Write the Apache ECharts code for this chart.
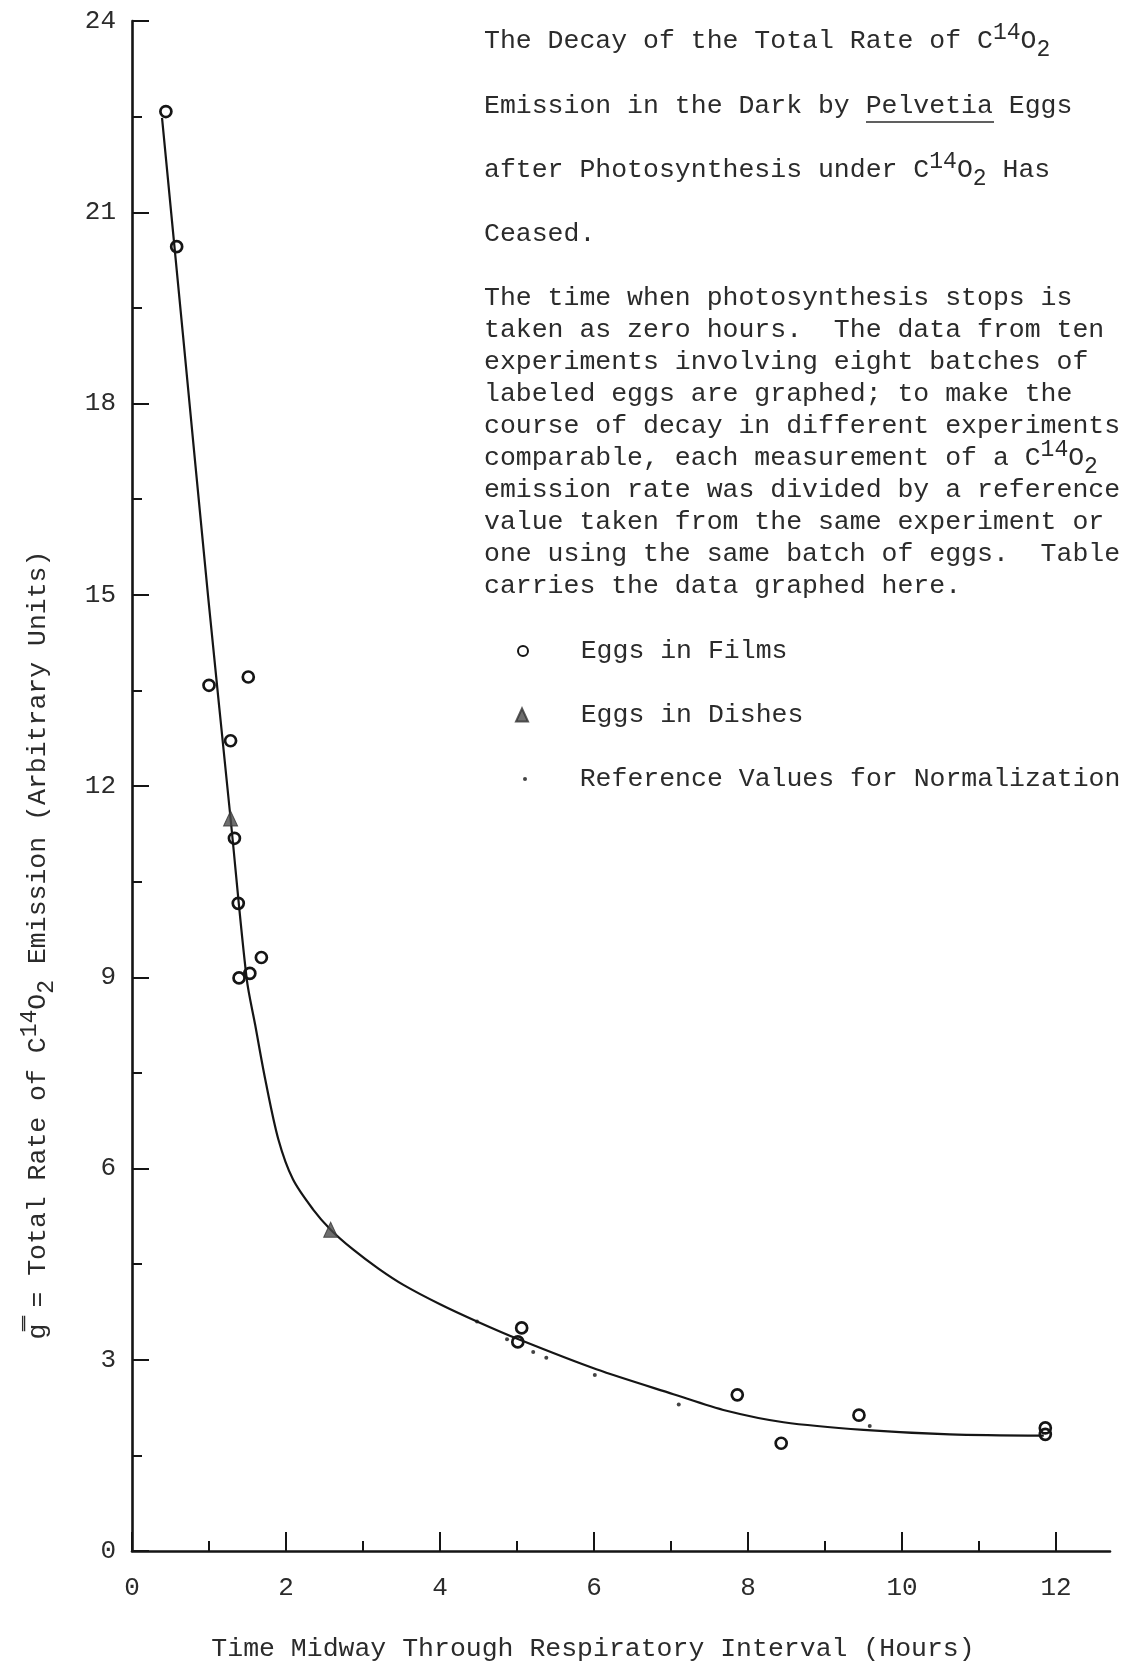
<!DOCTYPE html>
<html>
<head>
<meta charset="utf-8">
<script src="https://cdn.jsdelivr.net/npm/echarts@6/dist/echarts.min.js"></script>
<style>
  html, body { margin:0; padding:0; background:#fff; }
  #chart { width:1121px; height:1669px; }
</style>
</head>
<body>
<div id="chart"></div>
<script>
(function(){
  // eggs in films (open circles)
  const filmsX = [0.44, 0.58, 1.00, 1.51, 1.28, 1.33, 1.38, 1.68, 1.53, 1.39, 5.06, 5.01, 7.86, 8.43, 9.44, 11.86, 11.86];
  const filmsY = [22.58, 20.46, 13.58, 13.71, 12.71, 11.18, 10.16, 9.31, 9.06, 8.99, 3.50, 3.28, 2.45, 1.69, 2.13, 1.93, 1.83];
  // eggs in dishes (filled triangles)
  const dishesX = [1.28, 2.58];
  const dishesY = [11.49, 5.04];
  // reference values for normalization (small dots)
  const refX = [4.48, 4.87, 5.21, 5.38, 6.01, 7.10, 9.58];
  const refY = [3.60, 3.32, 3.12, 3.03, 2.76, 2.30, 1.96];
  // hand drawn decay curve
  const curveX = [0.39, 0.66, 0.99, 1.28, 1.49, 1.60, 1.73, 1.90, 2.09, 2.35, 2.58, 2.87, 3.20, 3.53, 4.00, 4.48, 5.02, 6.03, 7.03, 7.72, 8.46, 9.50, 10.62, 11.84];
  const curveY = [22.48, 19.10, 14.95, 11.49, 8.97, 8.25, 7.40, 6.46, 5.83, 5.36, 5.04, 4.73, 4.43, 4.17, 3.87, 3.60, 3.32, 2.85, 2.46, 2.20, 2.02, 1.90, 1.83, 1.81];

  const xMajorTicks = [0, 2, 4, 6, 8, 10, 12];
  const xMinorTicks = [1, 3, 5, 7, 9, 11];

  const titleLines = [
    'The Decay of the Total Rate of C{sup|14}O{sub|2}',
    'Emission in the Dark by Pelvetia Eggs',
    'after Photosynthesis under C{sup|14}O{sub|2} Has',
    'Ceased.'
  ];
  const noteLines = [
    'The time when photosynthesis stops is',
    'taken as zero hours.  The data from ten',
    'experiments involving eight batches of',
    'labeled eggs are graphed; to make the',
    'course of decay in different experiments',
    'comparable, each measurement of a C{sup|14}O{sub|2}',
    'emission rate was divided by a reference',
    'value taken from the same experiment or',
    'one using the same batch of eggs.  Table',
    'carries the data graphed here.'
  ];
  const yName = 'g\u033F = Total Rate of C{sup|14}O{sub|2} Emission (Arbitrary Units)';
  const xName = 'Time Midway Through Respiratory Interval (Hours)';

  const FONT = '"Liberation Mono", "DejaVu Sans Mono", monospace';
  const INK = '#2b2b2b';
  const LINE = '#151515';
  const FS = 26.5;

  const zip = (xs, ys) => xs.map((x, i) => [x, ys[i]]);

  const rich = {
    sup: { fontFamily: FONT, fontSize: 23, lineHeight: 20, verticalAlign: 'top', fill: INK },
    sub: { fontFamily: FONT, fontSize: 23, lineHeight: 20, verticalAlign: 'bottom', fill: INK }
  };

  function textEl(str, x, y, extra){
    return Object.assign({
      type: 'text', x: x, y: y, silent: true,
      style: {
        text: str, fontFamily: FONT, fontSize: FS, fill: INK,
        lineHeight: 40, align: 'left', verticalAlign: 'middle', rich: rich
      }
    }, extra || {});
  }

  const graphics = [];
  const titleY = [41, 106, 170, 234];
  titleLines.forEach((t, i) => graphics.push(textEl(t, 484, titleY[i])));
  noteLines.forEach((t, i) => graphics.push(textEl(t, 484, 298 + 32 * i)));
  // underline under "Pelvetia"
  graphics.push({ type: 'line', silent: true, shape: { x1: 866, y1: 122, x2: 994, y2: 122 },
    style: { stroke: INK, lineWidth: 1.5 } });
  // rotated y axis title
  graphics.push(textEl(yName, 38, 945, {
    rotation: Math.PI / 2,
    style: { text: yName, fontFamily: FONT, fontSize: FS, fill: INK, lineHeight: 40,
      align: 'center', verticalAlign: 'middle', rich: rich }
  }));

  // text starts at x=580, icon centred near x=524
  function legendFor(name, top, w, h){
    return {
      data: [name], left: 580 - 5 - 48 - w, top: top, padding: 0,
      itemWidth: w, itemHeight: h, selectedMode: false,
      formatter: (n) => '   ' + n,
      textStyle: { fontFamily: FONT, fontSize: FS, color: INK, lineHeight: 30 }
    };
  }

  const chart = echarts.init(document.getElementById('chart'), null, { renderer: 'canvas' });
  chart.setOption({
    animation: false,
    backgroundColor: '#fff',
    grid: { left: 132, right: 11, top: 21, bottom: 117, containLabel: false },
    legend: [
      legendFor('Eggs in Films', 636, 10, 10),
      legendFor('Eggs in Dishes', 700, 12, 13),
      legendFor('Reference Values for Normalization', 764, 4, 4)
    ],
    graphic: graphics,
    xAxis: [{
      type: 'value', min: 0, max: 12.7, position: 'bottom',
      splitLine: { show: false },
      axisLine: { show: true, onZero: false, lineStyle: { color: LINE, width: 2.6 } },
      axisTick: { show: true, inside: true, length: 19, customValues: xMajorTicks, lineStyle: { color: LINE, width: 2 } },
      axisLabel: { customValues: xMajorTicks, margin: 24, fontFamily: FONT, fontSize: 26, color: INK },
      name: xName, nameLocation: 'middle', nameGap: 83,
      nameTextStyle: { fontFamily: FONT, fontSize: FS, color: INK, lineHeight: 30, padding: [0, 56, 0, 0] }
    }, {
      type: 'value', min: 0, max: 12.7, position: 'bottom', offset: 0,
      splitLine: { show: false },
      axisLine: { show: false },
      axisLabel: { show: false },
      axisTick: { show: true, inside: true, length: 10, customValues: xMinorTicks, lineStyle: { color: LINE, width: 2 } }
    }],
    yAxis: {
      type: 'value', min: 0, max: 24, interval: 3,
      splitLine: { show: false },
      axisLine: { show: true, onZero: false, lineStyle: { color: LINE, width: 2.6 } },
      axisTick: { show: true, inside: true, length: 17, lineStyle: { color: LINE, width: 2 } },
      minorTick: { show: true, splitNumber: 2, length: 10, lineStyle: { color: LINE, width: 2 } },
      minorSplitLine: { show: false },
      axisLabel: { margin: 16, fontFamily: FONT, fontSize: 26, color: INK }
    },
    series: [{
      name: 'curve', type: 'line', data: zip(curveX, curveY),
      showSymbol: false, symbol: 'none', smooth: 0.3,
      lineStyle: { color: LINE, width: 2.2 }, z: 2, silent: true
    }, {
      name: 'Eggs in Films', type: 'scatter', data: zip(filmsX, filmsY),
      symbol: 'circle', symbolSize: 11,
      itemStyle: { color: 'rgba(255,255,255,0)', borderColor: LINE, borderWidth: 2.7, opacity: 1 }, z: 3
    }, {
      name: 'Eggs in Dishes', type: 'scatter', data: zip(dishesX, dishesY),
      symbol: 'triangle', symbolSize: [14, 15],
      itemStyle: { color: '#4a4a4a', borderColor: '#333', borderWidth: 1 }, z: 4
    }, {
      name: 'Reference Values for Normalization', type: 'scatter', data: zip(refX, refY),
      symbol: 'circle', symbolSize: 4,
      itemStyle: { color: LINE }, z: 4
    }]
  });
  window.addEventListener('resize', () => chart.resize());
})();
</script>
</body>
</html>
